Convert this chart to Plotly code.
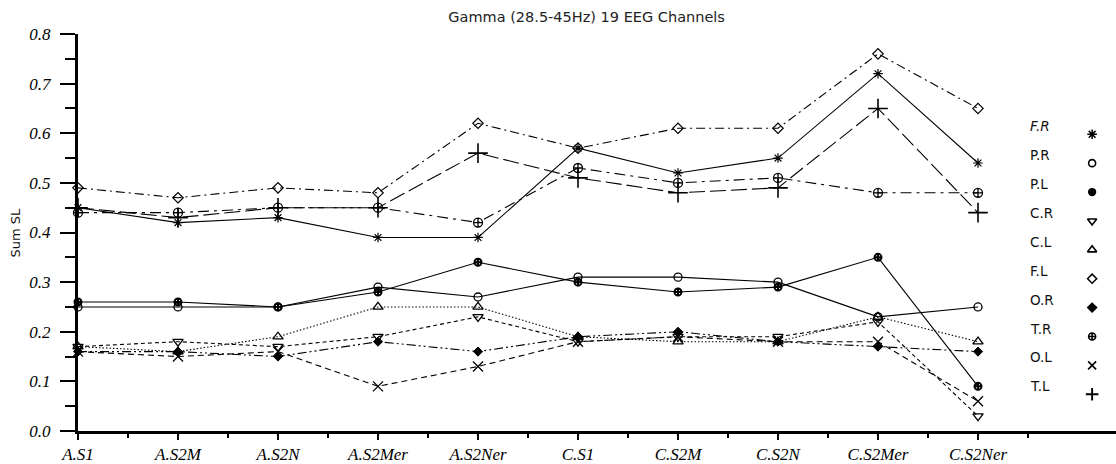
import plotly.graph_objects as go

categories = ["A.S1", "A.S2M", "A.S2N", "A.S2Mer", "A.S2Ner",
              "C.S1", "C.S2M", "C.S2N", "C.S2Mer", "C.S2Ner"]

FR = [0.45, 0.42, 0.43, 0.39, 0.39, 0.57, 0.52, 0.55, 0.72, 0.54]
PR = [0.25, 0.25, 0.25, 0.29, 0.27, 0.31, 0.31, 0.30, 0.23, 0.25]
PL = [0.26, 0.26, 0.25, 0.28, 0.34, 0.30, 0.28, 0.29, 0.35, 0.09]
CR = [0.17, 0.18, 0.17, 0.19, 0.23, 0.18, 0.19, 0.19, 0.22, 0.03]
CL = [0.17, 0.16, 0.19, 0.25, 0.25, 0.19, 0.18, 0.18, 0.23, 0.18]
FL = [0.49, 0.47, 0.49, 0.48, 0.62, 0.57, 0.61, 0.61, 0.76, 0.65]
OR = [0.16, 0.16, 0.15, 0.18, 0.16, 0.19, 0.20, 0.18, 0.17, 0.16]
TR = [0.44, 0.44, 0.45, 0.45, 0.42, 0.53, 0.50, 0.51, 0.48, 0.48]
OL = [0.16, 0.15, 0.16, 0.09, 0.13, 0.18, 0.19, 0.18, 0.18, 0.06]
TL = [0.45, 0.43, 0.45, 0.45, 0.56, 0.51, 0.48, 0.49, 0.65, 0.44]

series_names = ["F.R", "P.R", "P.L", "C.R", "C.L", "F.L", "O.R", "T.R", "O.L", "T.L"]
series_values = [FR, PR, PL, CR, CL, FL, OR, TR, OL, TL]

styles = {
    "F.R": dict(symbol="asterisk-open", size=8, lsize=8, lw=1.2, dash="solid"),
    "P.R": dict(symbol="circle-open", size=8, lsize=7, lw=1.3, dash="solid"),
    "P.L": dict(symbol="circle-cross-open", size=7, lsize=6, lw=2, dash="solid"),
    "C.R": dict(symbol="triangle-down-open", size=9, lsize=8, lw=1.3, dash="4px,3px"),
    "C.L": dict(symbol="triangle-up-open", size=9, lsize=8, lw=1.3, dash="1.5px,2px"),
    "F.L": dict(symbol="diamond-open", size=8, lsize=7, lw=1.2, dash="9px,4px,2px,4px"),
    "O.R": dict(symbol="diamond", size=7, lsize=7, lw=1, dash="9px,3px,2px,3px,2px,3px"),
    "T.R": dict(symbol="circle-cross-open", size=9, lsize=7, lw=1.3, dash="11px,5px,3px,5px"),
    "O.L": dict(symbol="x-thin-open", size=10, lsize=8, lw=1.3, dash="6px,4px"),
    "T.L": dict(symbol="cross-thin-open", size=14, lsize=9, lw=1.6, dash="16px,5px"),
}

x_idx = list(range(len(categories)))

fig = go.Figure()

for name, vals in zip(series_names, series_values):
    st = styles[name]
    fig.add_trace(go.Scatter(
        x=x_idx, y=vals, name=name, mode="lines+markers",
        line=dict(color="black", width=1.1, dash=st["dash"]),
        marker=dict(symbol=st["symbol"], size=st["size"], color="black",
                    line=dict(color="black", width=st["lw"])),
        cliponaxis=False, showlegend=False,
    ))

# custom legend: label on the left, marker on the right
for i, name in enumerate(series_names):
    st = styles[name]
    fig.add_trace(go.Scatter(
        x=[0.977], y=[i], mode="markers", xaxis="x2", yaxis="y2",
        marker=dict(symbol=st["symbol"], size=st["lsize"], color="black",
                    line=dict(color="black", width=st["lw"] + 0.3)),
        showlegend=False, hoverinfo="skip", cliponaxis=False,
    ))
    fig.add_annotation(
        x=0.915, y=i, xref="x2", yref="y2", text=name, showarrow=False,
        xanchor="left", yanchor="middle", yshift=8,
        font=dict(family="DejaVu Sans", size=13.5, color="#111",
                  style="italic" if name == "F.R" else "normal"),
    )

fig.add_annotation(
    x=0, y=0.4, xref="paper", yref="y", text="Sum SL", showarrow=False,
    textangle=-90, xanchor="center", yanchor="middle", xshift=-63,
    font=dict(family="DejaVu Sans", size=13, color="#111"),
)

fig.update_layout(
    width=1116, height=464,
    margin=dict(l=78, r=0, t=34, b=30),
    paper_bgcolor="white", plot_bgcolor="white",
    title=dict(text="Gamma (28.5-45Hz) 19 EEG Channels",
               x=0.49, xref="paper", xanchor="center",
               y=1 - 17 / 464, yref="container", yanchor="middle",
               font=dict(family="DejaVu Sans", size=14.5, color="#222")),
    xaxis=dict(
        range=[0, 10.38], tickmode="array", tickvals=x_idx, ticktext=categories,
        showline=True, linecolor="black", linewidth=3,
        ticks="outside", ticklen=6, tickwidth=2, tickcolor="black",
        minor=dict(tickmode="array", tickvals=[v + 0.5 for v in x_idx],
                   ticks="outside", ticklen=4, tickwidth=2, tickcolor="black"),
        showgrid=False, zeroline=False,
        tickfont=dict(family="Liberation Serif", size=17, color="black", style="italic"),
    ),
    yaxis=dict(
        range=[0, 0.8], dtick=0.1, tick0=0, tickformat=".1f",
        showline=True, linecolor="black", linewidth=3,
        ticks="outside", ticklen=15, tickwidth=2, tickcolor="black",
        minor=dict(dtick=0.05, tick0=0, ticks="outside", ticklen=10,
                   tickwidth=2, tickcolor="black"),
        showgrid=False, zeroline=False,
        tickfont=dict(family="Liberation Serif", size=17, color="black", style="italic"),
        ticklabelstandoff=6,
    ),
    xaxis2=dict(overlaying="x", range=[0, 1], visible=False, fixedrange=True),
    yaxis2=dict(overlaying="y", range=[10.27, -3.47], visible=False, fixedrange=True),
)

fig.write_html("out.html", config={"displayModeBar": False},
               post_script="document.body.style.margin='0';document.body.style.overflow='hidden';")
